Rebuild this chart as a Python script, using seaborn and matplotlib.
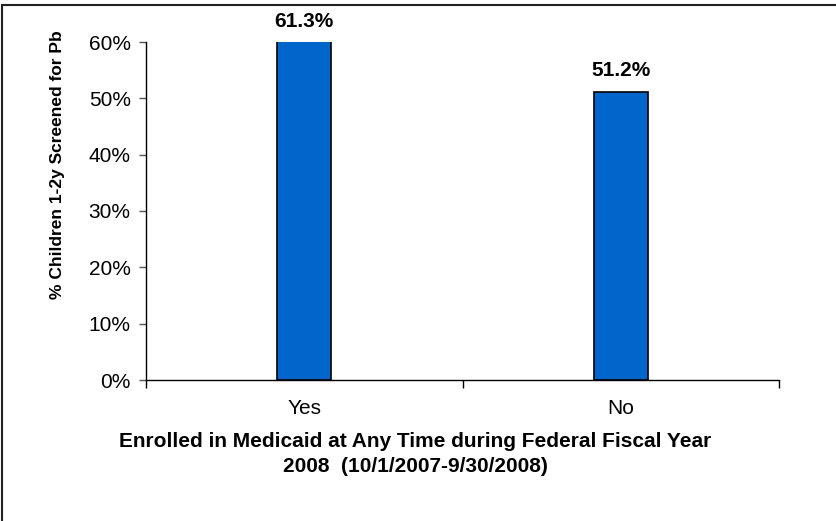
import matplotlib
matplotlib.use("Agg")
import matplotlib.pyplot as plt
import seaborn as sns
import pandas as pd
from matplotlib.patches import Rectangle
from matplotlib.ticker import PercentFormatter, FixedLocator

# Screening rates by Medicaid enrollment status
categories = ["Yes", "No"]
screened_pct = [61.3, 51.2]
y_ticks = [0, 10, 20, 30, 40, 50, 60]

sns.set_theme(style="white")
plt.rcParams["font.family"] = ["Liberation Sans", "DejaVu Sans"]

df = pd.DataFrame({"enrolled": categories, "pct": screened_pct})

fig = plt.figure(figsize=(8.36, 5.21), dpi=100)
ax = fig.add_axes([146 / 836, 141 / 521, 633 / 836, 338 / 521])

sns.barplot(data=df, x="enrolled", y="pct", color="#0066CC", saturation=1,
            width=0.17, edgecolor="black", linewidth=1.2, ax=ax)

ax.set_xlim(-0.5, len(categories) - 0.5)
ax.set_ylim(0, 60)
ax.set_yticks(y_ticks)
ax.yaxis.set_major_formatter(PercentFormatter(decimals=0))

# Category boundary ticks on the x axis
ax.xaxis.set_minor_locator(FixedLocator([i - 0.5 for i in range(len(categories) + 1)]))
ax.tick_params(axis="x", which="major", length=0, pad=14, labelsize=15, colors="black")
ax.tick_params(axis="x", which="minor", bottom=True, length=6, width=1, color="black")
ax.tick_params(axis="y", which="major", left=True, length=5, width=1, color="#555555",
               labelsize=15, labelcolor="black", pad=6)

for side in ["top", "right"]:
    ax.spines[side].set_visible(False)
for side in ["left", "bottom"]:
    ax.spines[side].set_color("black")
    ax.spines[side].set_linewidth(1.0)

ax.set_xlabel("Enrolled in Medicaid at Any Time during Federal Fiscal Year\n2008  (10/1/2007-9/30/2008)",
              fontsize=15, fontweight="bold", color="black", linespacing=1.4)
ax.xaxis.set_label_coords(0.425, -0.155)
ax.set_ylabel("% Children 1-2y Screened for Pb", fontsize=12.5, fontweight="bold", color="black")
ax.yaxis.set_label_coords(-0.128, 0.636)

# Value labels above bars (bars taller than the axis are labelled at the top edge)
ymax = ax.get_ylim()[1]
for i, v in enumerate(screened_pct):
    ax.annotate(f"{v:.1f}%", xy=(i, min(v, ymax)), xytext=(0, 11),
                textcoords="offset points", ha="center", va="baseline",
                fontsize=15, fontweight="bold", color="black", annotation_clip=False)

# Outer frame around the chart area
fig.patches.append(Rectangle((1.5 / 836, -0.05), 1.2, 1 - 4.5 / 521 + 0.05,
                             transform=fig.transFigure, fill=False,
                             edgecolor="#222222", linewidth=1.5, figure=fig))

fig.savefig("out.png", dpi=100)
